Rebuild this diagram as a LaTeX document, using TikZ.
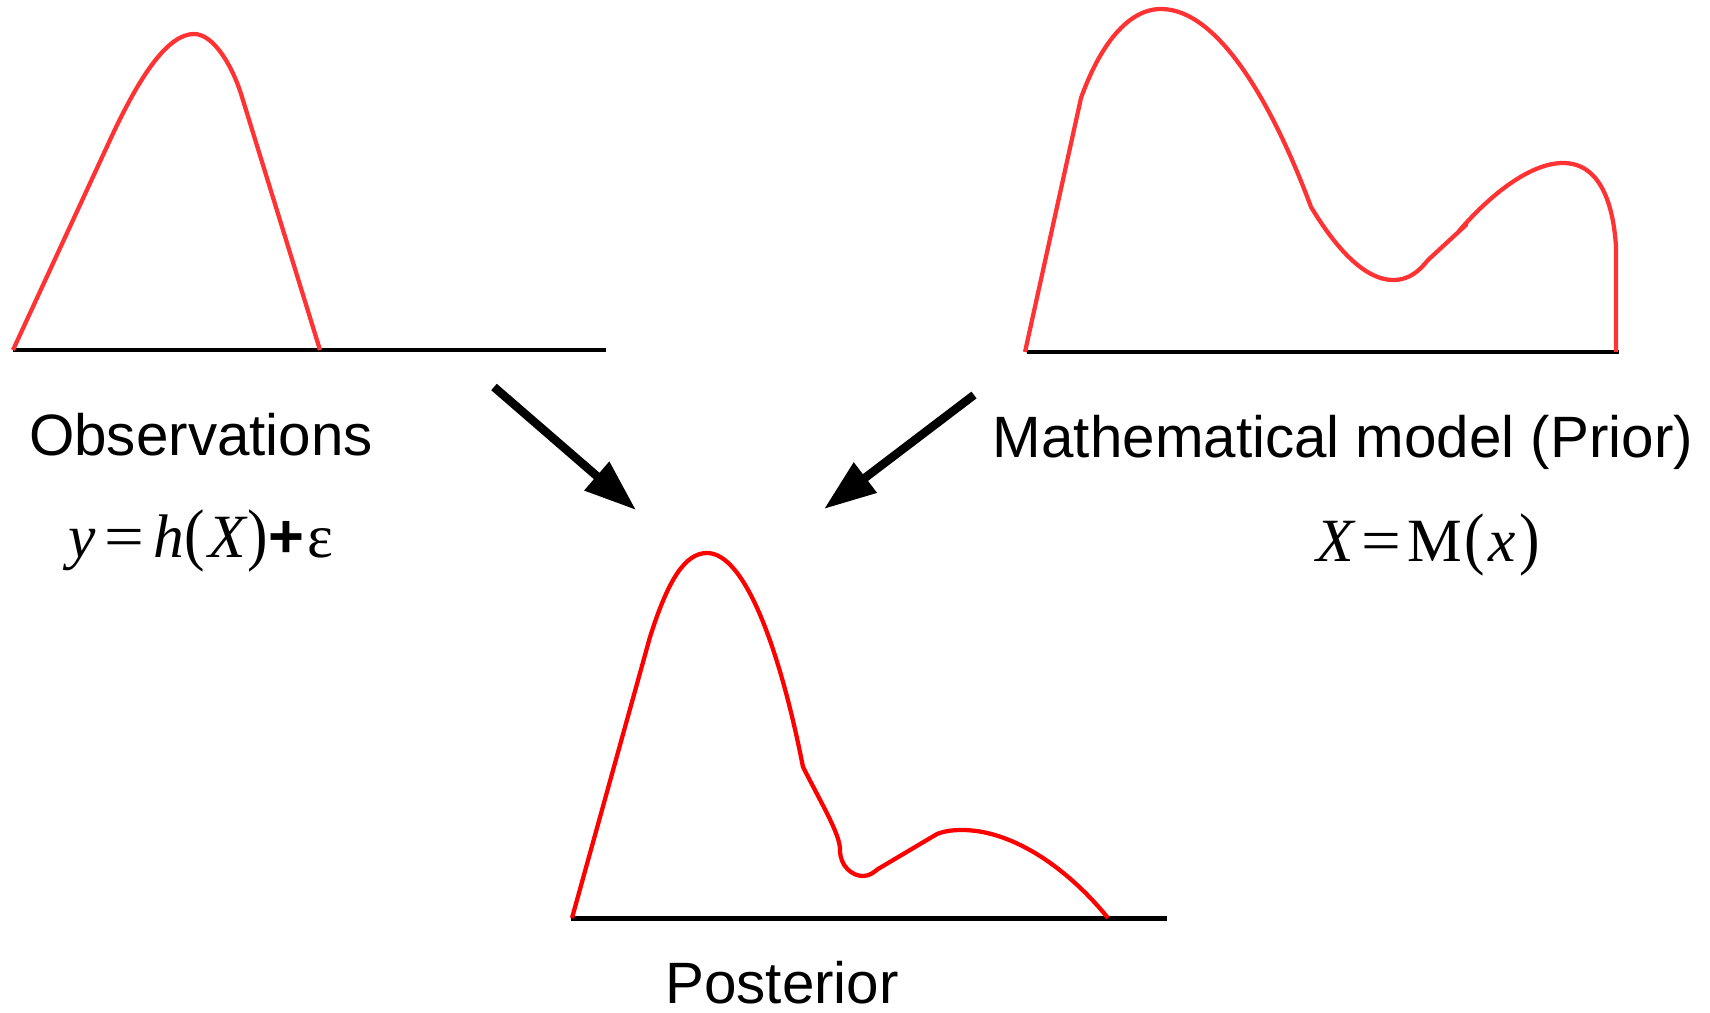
\documentclass[tikz,border=0pt]{standalone}
\usepackage{fontspec}
\setmainfont{Liberation Sans}
\newfontfamily\tmsfont{Liberation Serif}
\usetikzlibrary{arrows.meta}
\definecolor{obscol}{RGB}{255,51,51}
\definecolor{postcol}{RGB}{255,0,0}
\newcommand{\Tall}[1]{\scalebox{1}[1.12]{#1}}
\newcommand{\Eqs}{\scalebox{1.15}[1]{=}}

\begin{document}
\begin{tikzpicture}[x=0.02cm,y=-0.02cm,
  every node/.style={font=\fontsize{33.2}{40}\selectfont,inner sep=0pt},
  axis/.style={line width=0.1cm},
  pdf/.style={obscol,line width=0.085cm,line join=round},
  eq/.style={anchor=base,font=\fontsize{35}{40}\selectfont\tmsfont},
  flow/.style={line width=0.17cm,-{Triangle[length=1.04cm,width=0.72cm]}}]
  \useasboundingbox (0,0) rectangle (1710,1013);

  % observations
  \draw[axis] (13,350) -- (606,350);
  \draw[pdf] (13,350) -- (110,140) .. controls (140,75) and (168,34) .. (194,34)
    .. controls (214,34) and (233,67) .. (242,97) -- (320,350);
  \node[anchor=base] (obs) at (201,455) {Observations};
  \node[eq] (obseq) at (201,557) {{\itshape y}\kern5pt\Eqs\kern5pt{\itshape h}\Tall{(}\kern2pt{\itshape X}\kern1pt\Tall{)}{\normalfont\bfseries +}\kern2ptε};

  % prior
  \draw[axis] (1027,352) -- (1619,352);
  \draw[pdf] (1025,352) -- (1081,98) .. controls (1100,45) and (1128,9) .. (1161,9)
    .. controls (1220,9) and (1275,110) .. (1311,207)
    .. controls (1340,255) and (1368,280) .. (1393,280)
    .. controls (1410,280) and (1420,270) .. (1428,260) -- (1466,225) -- (1459,231)
    .. controls (1490,195) and (1530,163) .. (1563,163)
    .. controls (1605,163) and (1614,215) .. (1616,247) -- (1616,352);
  \node[anchor=base] (prior) at (1343,457) {Mathematical model (Prior)};
  \node[eq] (prioreq) at (1428,561) {{\itshape X}\kern4pt\Eqs\kern4pt M\kern1pt\Tall{(}\kern2pt{\itshape x}\kern2pt\Tall{)}};

  % posterior
  \draw[axis] (571,918) -- (1167,918);
  \draw[pdf,postcol] (572,918) -- (650,637) .. controls (668,580) and (685,553) .. (707,553)
    .. controls (745,553) and (780,650) .. (803,767)
    .. controls (825,810) and (840,835) .. (840,850)
    .. controls (840,866) and (852,876) .. (863,876)
    .. controls (870,876) and (874,872) .. (878,869) -- (937,834)
    .. controls (945,831) and (952,830) .. (962,830)
    .. controls (1010,830) and (1065,865) .. (1108,918);
  \node[anchor=base] (post) at (782,1003) {Posterior};

  % arrows into the posterior
  \coordinate (obsout) at (494,387);
  \coordinate (priorout) at (974,395);
  \coordinate (postin1) at (636,510);
  \coordinate (postin2) at (824,509);
  \draw[flow] (obsout) -- (postin1);
  \draw[flow] (priorout) -- (postin2);
\end{tikzpicture}
\end{document}
